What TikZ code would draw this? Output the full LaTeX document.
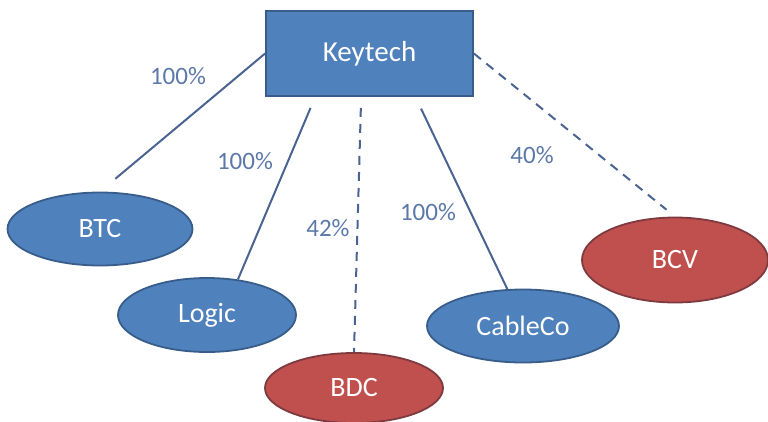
\documentclass[tikz,border=0pt]{standalone}
\usepackage{fontspec}
\setmainfont{Carlito}
\usepackage{xcolor}
\usetikzlibrary{shapes.geometric,calc}

\definecolor{boxblue}{HTML}{4F81BD}
\definecolor{edgeblue}{HTML}{385D8A}
\definecolor{boxred}{HTML}{C0504D}
\definecolor{edgered}{HTML}{7E3A3F}
\definecolor{linkcol}{HTML}{4A6390}
\definecolor{pctcol}{HTML}{5B78A8}

\begin{document}
\begin{tikzpicture}[x=1pt, y=-1pt,
  company/.style={ellipse, draw=edgeblue, line width=1.8pt, fill=boxblue, text=white,
    font=\fontsize{28}{32}\selectfont, inner sep=0pt},
  owned/.style={company, minimum width=180pt, minimum height=73pt},
  stake/.style={company, fill=boxred, draw=edgered, minimum width=180pt, minimum height=72pt},
  link/.style={draw=linkcol, line width=2pt},
  part/.style={link, dash pattern=on 9pt off 7pt},
  pct/.style={text=pctcol, font=\fontsize{25}{28}\selectfont}]
\useasboundingbox (0,0) rectangle (768,421);

% Parent
\node[draw=edgeblue, line width=1.8pt, fill=boxblue, text=white, minimum width=207pt,
  minimum height=85pt, font=\fontsize{29}{32}\selectfont] (key) at (369.5,53.5) {Keytech};

% Subsidiaries
\node[owned, minimum width=185pt] (btc) at (100,229) {BTC};
\node[owned, minimum width=178pt, minimum height=74pt] (logic) at (207,315) {Logic};
\node[stake, minimum width=178pt, minimum height=70pt] (bdc) at (354,388) {BDC};
\node[owned, minimum width=192pt] (cable) at (523,326) {CableCo};
\node[stake, minimum width=186pt, minimum height=85pt] (bcv) at (675,260) {BCV};

% Ownership lines
\draw[link, shorten >=20pt] (key.west) -- (btc.north);
\draw[link, shorten <=12pt] ($(key.south west)!0.24!(key.south east)$) -- (logic.49);
\draw[part, shorten <=11pt] ($(key.south west)!0.46!(key.south east)$) -- (bdc.north);
\draw[link, shorten <=13pt] ($(key.south west)!0.72!(key.south east)$) -- (cable.113);
\draw[part, shorten >=11pt] (key.east) -- (bcv.north);

% Shares
\node[pct] (p1) at (178,76) {100\%};
\node[pct] (p2) at (245,161) {100\%};
\node[pct] (p3) at (328,228) {42\%};
\node[pct] (p4) at (428,212) {100\%};
\node[pct] (p5) at (532,155) {40\%};
\end{tikzpicture}
\end{document}
